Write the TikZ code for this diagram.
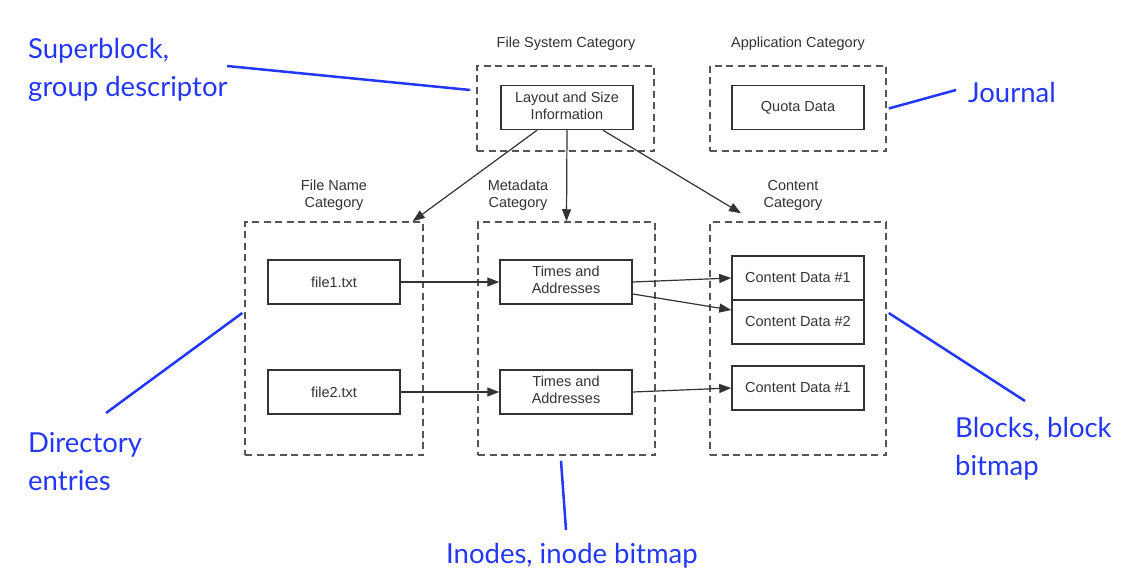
\documentclass[tikz,border=0pt]{standalone}
\usepackage{fontspec}
\setmainfont{Liberation Sans}
\newfontfamily\notefont{Lato}
\usetikzlibrary{arrows.meta}
\definecolor{noteblue}{RGB}{35,55,250}
\definecolor{boxgray}{RGB}{85,85,85}

\begin{document}
\begin{tikzpicture}[x=1pt,y=-1pt]
        \tikzstyle{every node}=[inner sep=0pt, font=\fontsize{14.5}{17}\selectfont, text=black!80]
        \tikzstyle{catbox}=[draw=boxgray, dash pattern=on 7pt off 4.5pt, line width=1.5pt]
        \tikzstyle{databox}=[draw=black!80, line width=1.5pt, minimum width=132pt, minimum height=44pt]
        \tikzstyle{edge}=[draw=black!80, line width=1.2pt, -{Triangle[length=12pt,width=9pt]}]
        \tikzstyle{note}=[text=noteblue, font=\notefont\fontsize{27.5}{38}\selectfont]
        \tikzstyle{noteline}=[noteblue, line width=2.5pt]

        \useasboundingbox (0,0) rectangle (1137,583);

        % categories
        \node[catbox, minimum width=177pt, minimum height=85pt]  (fscat)   at (565.5,108.5) {};
        \node[catbox, minimum width=176pt, minimum height=85pt]  (appcat)  at (798,108.5)   {};
        \node[catbox, minimum width=178pt, minimum height=233pt] (namecat) at (334,338.5)   {};
        \node[catbox, minimum width=177pt, minimum height=233pt] (metacat) at (566.5,338.5) {};
        \node[catbox, minimum width=176pt, minimum height=233pt] (contcat) at (798,338.5)   {};

        \node (fstitle)   at (566,44)    {File System Category};
        \node (apptitle)  at (798,44)    {Application Category};
        \node (nametitle) at (334,195.5) {\begin{tabular}{c} File Name \\ Category \end{tabular}};
        \node (metatitle) at (518,195.5) {\begin{tabular}{c} Metadata  \\ Category \end{tabular}};
        \node (conttitle) at (793,195.5) {\begin{tabular}{c} Content   \\ Category \end{tabular}};

        % data
        \node[databox] (layout) at (567,107.5) {\begin{tabular}{c} Layout and Size \\ Information \end{tabular}};
        \node[databox] (quota)  at (798,107.5) {Quota Data};
        \node[databox] (file1)  at (334,282)   {file1.txt};
        \node[databox] (file2)  at (334,392)   {file2.txt};
        \node[databox] (times1) at (566,282)   {\begin{tabular}{c} Times and \\ Addresses \end{tabular}};
        \node[databox] (times2) at (566,392)   {\begin{tabular}{c} Times and \\ Addresses \end{tabular}};
        \node[databox] (cd1)    at (798,278)   {Content Data \#1};
        \node[databox] (cd2)    at (798,322)   {Content Data \#2};
        \node[databox] (cd3)    at (798,388)   {Content Data \#1};

        \draw[edge] ([xshift=-30pt]layout.south) -- ([xshift=-11pt]namecat.north east);
        \draw[edge] (layout.south) -- (metacat.north);
        \draw[edge] ([xshift=36pt]layout.south) -- ([xshift=-57pt,yshift=8pt]contcat.north);
        \draw[edge] (file1) -- (times1);
        \draw[edge] (file2) -- (times2);
        \draw[edge] (times1.east) -- (cd1.west);
        \draw[edge] ([yshift=-12pt]times1.east) -- ([yshift=12pt]cd2.west);
        \draw[edge] (times2.east) -- (cd3.west);

        % notes
        \node[note, anchor=west] (sbnote)  at (28,69.5)  {\begin{tabular}{@{}l@{}} Superblock, \\ group descriptor \end{tabular}};
        \node[note, anchor=west] (jnnote)  at (968,92)   {Journal};
        \node[note, anchor=west] (dirnote) at (28,463.5) {\begin{tabular}{@{}l@{}} Directory \\ entries \end{tabular}};
        \node[note, anchor=west] (blknote) at (955,449) {\begin{tabular}{@{}l@{}} Blocks, block \\ bitmap \end{tabular}};
        \node[note] (inonote) at (572,556) {Inodes, inode bitmap};

        \coordinate (sbend)  at (227,66);
        \coordinate (jnend)  at (956,90);
        \coordinate (dirend) at (106,413);
        \coordinate (blkend) at (1025,401);
        \coordinate (inoend) at (566,530);

        \draw[noteline] (sbend) -- ([xshift=-6pt,yshift=18.5pt]fscat.west);
        \draw[noteline] ([xshift=2pt]appcat.east) -- (jnend);
        \draw[noteline] (dirend) -- ([xshift=-2pt,yshift=25.5pt]namecat.west);
        \draw[noteline] ([xshift=2pt,yshift=25.5pt]contcat.east) -- (blkend);
        \draw[noteline] ([xshift=-5.5pt,yshift=-5pt]metacat.south) -- (inoend);
    \end{tikzpicture}
\end{document}
